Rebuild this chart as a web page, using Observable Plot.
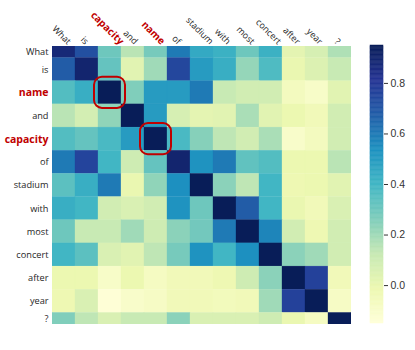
<!DOCTYPE html>
<html><head><meta charset="utf-8">
<script src="https://cdn.jsdelivr.net/npm/d3@7"></script>
<script src="https://cdn.jsdelivr.net/npm/@observablehq/plot@0.6"></script>
<style>
body{margin:0;background:#fff;}
#chart{position:relative;width:415px;height:350px;}
#chart svg{position:absolute;top:0;}
</style>
</head><body><div id="chart"></div>
<script>
const rowLabels = ["What","is","name","and","capacity","of","stadium","with","most","concert","after","year","?"];
const colLabels = ["What","is","capacity","and","name","of","stadium","with","most","concert","after","year","?"];
const highlighted = ["name","capacity"];
const values = [
  [0.88, 0.72, 0.30, 0.15, 0.28, 0.60, 0.45, 0.42, 0.30, 0.42, 0.02, 0.07, 0.17],
  [0.68, 0.90, 0.32, 0.03, 0.20, 0.75, 0.50, 0.43, 0.22, 0.37, 0.00, 0.05, 0.12],
  [0.36, 0.43, 0.95, 0.26, 0.50, 0.50, 0.60, 0.12, 0.09, 0.09, -0.06, -0.09, 0.03],
  [0.15, 0.08, 0.23, 0.95, 0.50, 0.07, 0.02, 0.03, 0.18, 0.03, -0.01, -0.04, 0.09],
  [0.36, 0.32, 0.38, 0.50, 0.95, 0.38, 0.25, 0.14, 0.09, 0.18, -0.10, -0.06, 0.09],
  [0.60, 0.76, 0.40, 0.10, 0.32, 0.90, 0.53, 0.60, 0.33, 0.36, -0.01, -0.01, 0.15],
  [0.34, 0.43, 0.60, 0.00, 0.23, 0.54, 0.95, 0.24, 0.14, 0.40, -0.02, -0.01, 0.03],
  [0.43, 0.40, 0.09, 0.06, 0.09, 0.53, 0.30, 0.95, 0.68, 0.40, 0.00, -0.04, 0.06],
  [0.30, 0.12, 0.12, 0.20, 0.10, 0.24, 0.29, 0.60, 0.95, 0.57, 0.09, -0.02, 0.09],
  [0.40, 0.34, 0.06, 0.03, 0.14, 0.28, 0.53, 0.40, 0.54, 0.95, 0.24, 0.20, 0.09],
  [-0.01, -0.01, -0.09, -0.01, -0.07, -0.04, -0.04, -0.02, 0.10, 0.24, 0.95, 0.77, -0.04],
  [-0.02, 0.06, -0.14, -0.10, -0.08, -0.04, -0.04, -0.05, -0.04, 0.20, 0.77, 0.95, -0.08],
  [0.26, 0.14, 0.06, 0.12, 0.12, 0.24, 0.06, 0.06, 0.06, 0.10, 0.00, -0.07, 0.95]
];
const colorDomain = [-0.15, 0.95];
const colorbarTicks = [0, 0.2, 0.4, 0.6, 0.8];
const circled = [["name","capacity"],["capacity","name"]]; // [row label, column label]

const n = rowLabels.length;
const cells = values.flatMap((row, i) => row.map((v, j) => ({i, j, v})));
const boxes = circled.map(([r, c]) => ({i: rowLabels.indexOf(r), j: colLabels.indexOf(c)}));
const ylbl = i => i === 0 ? 0.25 : i === n - 1 ? n - 1.25 : i;
const brewer = ["#ffffd9","#edf8b1","#c7e9b4","#7fcdbb","#41b6c4","#1d91c0","#225ea8","#253494","#081d58"];
const interp = d3.piecewise(d3.interpolateRgb, brewer);
const colorOpts = {type: "linear", domain: colorDomain, interpolate: interp, clamp: true};
const fontName = "'Open Sans'";
const font = fontName + ", sans-serif";
const red = "#c00000";
const ink = "#262626";
const normSize = 9.2, redSize = 10.5, topNorm = 9, topRed = 10;

const rowIdx = d3.range(n);
const normRows = rowIdx.filter(i => !highlighted.includes(rowLabels[i])).map(ylbl);
const redRows = rowIdx.filter(i => highlighted.includes(rowLabels[i])).map(ylbl);

// top (rotated) labels: centre each rotated label above its column, like matplotlib's ha="center"
const ctx = document.createElement("canvas").getContext("2d");
const topMarks = rowIdx.map(j => {
  const isRed = highlighted.includes(colLabels[j]);
  const size = isRed ? topRed : topNorm;
  ctx.font = `${isRed ? "bold " : ""}${size}px ${fontName}`;
  const L = ctx.measureText(colLabels[j]).width;
  const h = size * 0.95;
  return Plot.text([j], {x: d => d, frameAnchor: "top", textAnchor: "middle", rotate: 45,
    dy: -(3 + (L + h) * Math.SQRT1_2 / 2),
    text: d => colLabels[d], fontSize: size, fontWeight: isRed ? "bold" : "normal", fill: isRed ? red : ink});
});

const main = Plot.plot({
  width: 360, height: 335,
  marginTop: 46, marginBottom: 11, marginLeft: 52, marginRight: 9,
  style: {fontFamily: font, fontSize: "10px", color: ink, background: "transparent", overflow: "visible"},
  x: {domain: [-0.5, n - 0.5], axis: null},
  y: {domain: [0, n - 1], reverse: true, axis: null},
  color: colorOpts,
  marks: [
    Plot.rect(cells, {x1: d => d.j - 0.5, x2: d => d.j + 0.5, y1: d => d.i - 0.5, y2: d => d.i + 0.5,
      fill: "v", stroke: "v", strokeWidth: 0.3, clip: true}),
    Plot.rect(boxes, {x1: d => d.j - 0.5, x2: d => d.j + 0.5, y1: d => d.i - 0.5, y2: d => d.i + 0.5,
      fill: "none", stroke: red, strokeWidth: 2, inset: -4, rx: 8}),
    Plot.axisY(normRows, {anchor: "left", tickSize: 0, tickPadding: 4, fontSize: normSize, fill: ink,
      tickFormat: t => rowLabels[Math.round(t)], label: null}),
    Plot.axisY(redRows, {anchor: "left", tickSize: 0, tickPadding: 4, fontSize: redSize, fontWeight: "bold", fill: red,
      tickFormat: t => rowLabels[Math.round(t)], label: null}),
    ...topMarks
  ]
});
main.style.left = "0px";

const steps = 220;
const span = colorDomain[1] - colorDomain[0];
const stripe = d3.range(steps).map(k => colorDomain[0] + span * k / steps);
const cb = Plot.plot({
  width: 55, height: 335,
  marginTop: 45, marginBottom: 12, marginLeft: 10, marginRight: 32,
  style: {fontFamily: "'Liberation Sans', Arial, sans-serif", fontSize: "10.5px", color: "#333", background: "transparent"},
  x: {domain: [0, 1], axis: null},
  y: {domain: colorDomain, axis: null},
  color: colorOpts,
  marks: [
    Plot.rect(stripe, {x1: 0, x2: 1, y1: d => d, y2: d => d + span / steps, fill: d => d + span / steps / 2,
      stroke: d => d + span / steps / 2, strokeWidth: 0.5}),
    Plot.axisY(colorbarTicks, {anchor: "right", tickSize: 4, tickPadding: 3, tickFormat: d3.format(".1f"), label: null,
      fill: "#333", stroke: "#333"})
  ]
});
cb.style.left = "360px";

document.getElementById("chart").append(main, cb);
</script>
</body></html>
